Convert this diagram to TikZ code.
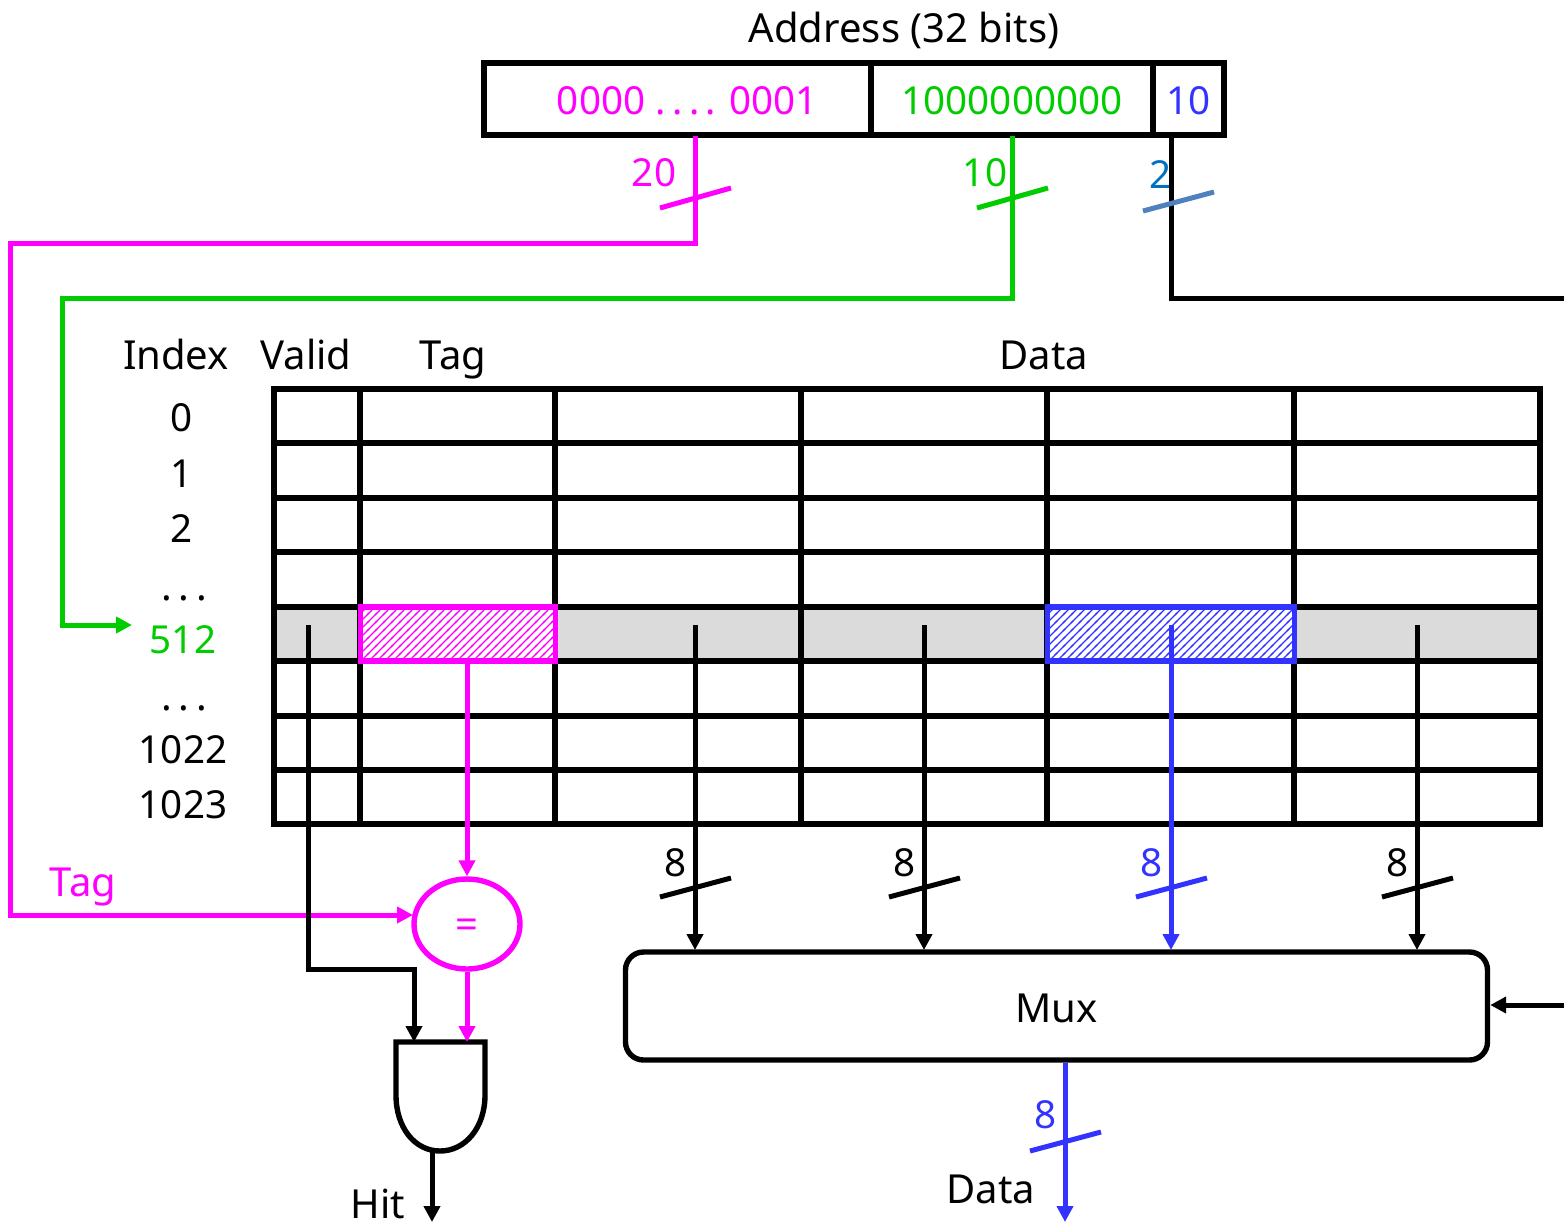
\documentclass[tikz,border=0pt]{standalone}
\usepackage{fontspec}
\setmainfont{Noto Sans}
\newfontfamily\dotsfont[LetterSpace=17]{Noto Sans}
\usetikzlibrary{arrows.meta,patterns,shapes.geometric}
\definecolor{tagcol}{RGB}{255,0,255}
\definecolor{idxcol}{RGB}{0,204,0}
\definecolor{offcol}{RGB}{51,51,255}
\pgfdeclarepatternformonly{cellhatch}{\pgfqpoint{-1pt}{-1pt}}{\pgfqpoint{5pt}{5pt}}{\pgfqpoint{4pt}{4pt}}{
  \pgfsetlinewidth{0.6pt}
  \pgfpathmoveto{\pgfqpoint{-0.5pt}{-0.5pt}}
  \pgfpathlineto{\pgfqpoint{4.5pt}{4.5pt}}
  \pgfusepath{stroke}
}
\tikzset{
  field/.style={draw, line width=2.7pt, minimum height=36pt, inner sep=0pt, text height=15.8pt, text depth=0pt,
    font=\fontsize{19.3}{20}\selectfont},
  lbl/.style={inner sep=0pt, text height=14.3pt, text depth=0pt, font=\fontsize{20}{20}\selectfont},
  num/.style={inner sep=0pt, text height=13.8pt, text depth=0pt, font=\fontsize{19.3}{20}\selectfont},
  hatched/.style={line width=2.7pt, minimum height=27pt, inner sep=0pt, fill=white},
  wire/.style={line width=2.5pt},
  tip/.style={-{Triangle[length=8pt,width=8pt]}},
  tick/.style={line width=2.5pt}
}

\begin{document}
\begin{tikzpicture}[x=0.5pt, y=-0.5pt]
  \useasboundingbox (0, 0) rectangle (1564, 1222);

  % address
  \node[lbl] (addr) at (904, 28) {Address (32 bits)};
  \node[field, minimum width=193.5pt, text=tagcol] (ftag) at (677.5, 99) {\hspace*{10pt}0000 {\dotsfont ....} 0001};
  \node[field, minimum width=141pt, text=idxcol] (findex) at (1012, 99) {1000000000};
  \node[field, minimum width=35.5pt, text=offcol] (foff) at (1188.5, 99) {10};

  % grid
  \fill[black!14] (274, 607) rectangle (1540, 661);
  \foreach \y in {389, 443, 498, 552, 607, 661, 716, 770, 824}
    \draw[line width=2.7pt, line cap=rect] (274, \y) -- (1540, \y);
  \foreach \x in {274, 360, 555, 801, 1047, 1294, 1540}
    \draw[line width=2.7pt, line cap=rect] (\x, 389) -- (\x, 824);

  \node[lbl] (hindex) at (176, 355) {Index};
  \node[lbl] (hvalid) at (306, 355) {Valid};
  \node[lbl] (htag)   at (453, 355) {Tag};
  \node[lbl] (hdata)  at (1044, 355) {Data};
  \node[num] (r0) at (182, 418) {0};
  \node[num] (r1) at (182, 474) {1};
  \node[num] (r2) at (182, 529) {2};
  \node[lbl] (d1) at (184, 586) {\dotsfont ...};
  \node[num, text=idxcol] (r512) at (183, 640) {512};
  \node[lbl] (d2) at (184, 696) {\dotsfont ...};
  \node[num] (r1022) at (183, 750) {1022};
  \node[num] (r1023) at (183, 805) {1023};

  % highlighted cells
  \node[hatched, draw=tagcol, minimum width=97.5pt, postaction={pattern=cellhatch, pattern color=tagcol}] (ctag) at (458, 634) {};
  \node[hatched, draw=offcol, minimum width=123.5pt, postaction={pattern=cellhatch, pattern color=offcol}] (cdata) at (1171, 634) {};

  % comparator, mux
  \node[ellipse, draw=tagcol, line width=2.7pt, minimum width=53pt, minimum height=45pt, inner sep=0pt,
        text=tagcol, text height=14pt, text depth=0pt, font=\fontsize{20}{20}\selectfont] (eq) at (467, 924) {=};
  \node[draw, rounded corners=9pt, line width=2.7pt, minimum width=431pt, minimum height=54pt, inner sep=0pt,
        text height=16.5pt, text depth=0pt, font=\fontsize{20}{20}\selectfont] (mux) at (1056.5, 1006) {Mux};

  % and gate
  \coordinate (gl) at (396, 1042);
  \coordinate (gr) at (485, 1042);
  \draw[line width=2.7pt, line join=miter] (gl) -- (gr) -- (485, 1095)
    .. controls (485, 1128) and (465, 1151) .. (440, 1151)
    .. controls (415, 1151) and (396, 1128) .. (396, 1095) -- cycle;

  % tag path
  \coordinate (t1) at (695, 136);
  \coordinate (t2) at (695, 243);
  \coordinate (t3) at (10, 243);
  \coordinate (t4) at (10, 915);
  \draw[wire, tagcol, tip] (t1) -- (t2) -- (t3) -- (t4) -- (413, 915);
  \draw[tick, tagcol] (660, 208) -- (731, 188);
  \node[num, text=tagcol] (n20) at (654, 173) {20};
  \node[lbl, text=tagcol] (ltag) at (83, 882) {Tag};

  % index path
  \coordinate (i1) at (1012.5, 136);
  \coordinate (i2) at (1012.5, 298);
  \coordinate (i3) at (62, 298);
  \coordinate (i4) at (62, 625);
  \draw[wire, idxcol, tip] (i1) -- (i2) -- (i3) -- (i4) -- (132, 625);
  \draw[tick, idxcol] (977, 208) -- (1048, 188);
  \node[num, text=idxcol] (n10) at (985, 173) {10};

  % offset path
  \coordinate (o1) at (1171, 136);
  \coordinate (o2) at (1171, 298);
  \coordinate (o3) at (1564, 298);
  \draw[wire] (o1) -- (o2) -- (o3);
  \draw[tick, color={rgb,255:red,79;green,129;blue,189}] (1143, 211) -- (1214, 192);
  \node[num, text={rgb,255:red,0;green,112;blue,192}] (n2) at (1161, 175) {2};

  % valid, tag compare
  \coordinate (v1) at (308, 625);
  \coordinate (v2) at (308, 969);
  \coordinate (v3) at (414, 969);
  \draw[wire, tip] (v1) -- (v2) -- (v3) -- (414, 1042);
  \draw[wire, tagcol, tip] (ctag.south -| eq) -- (eq.north);
  \draw[wire, tagcol, tip] (eq.south) -- (467, 1042);
  \coordinate (h1) at (432, 1151);
  \draw[wire, tip] (h1) -- (432, 1222);
  \node[lbl] (lhit) at (378, 1204) {Hit};

  % data lines
  \foreach \x/\c/\n in {695/black/a, 924/black/b, 1171/offcol/c, 1417/black/d} {
    \coordinate (s\n) at (\x, 625);
    \coordinate (e\n) at (\x, 950);
    \draw[wire, \c, tip] (s\n) -- (e\n);
    \draw[tick, \c] (\x-35, 897) -- (\x+36, 878);
    \node[num, text=\c] (w\n) at (\x-19, 863) {8};
  }

  % mux select, output
  \coordinate (m1) at (1564, 1005);
  \draw[wire, tip] (m1) -- (mux.east |- m1);
  \coordinate (q1) at (1065, 1222);
  \draw[wire, offcol, tip] (mux.south -| q1) -- (q1);
  \draw[tick, offcol] (1030, 1151) -- (1101, 1132);
  \node[num, text=offcol] (n8) at (1046, 1115) {8};
  \node[lbl] (ldata) at (991, 1189) {Data};
\end{tikzpicture}
\end{document}
